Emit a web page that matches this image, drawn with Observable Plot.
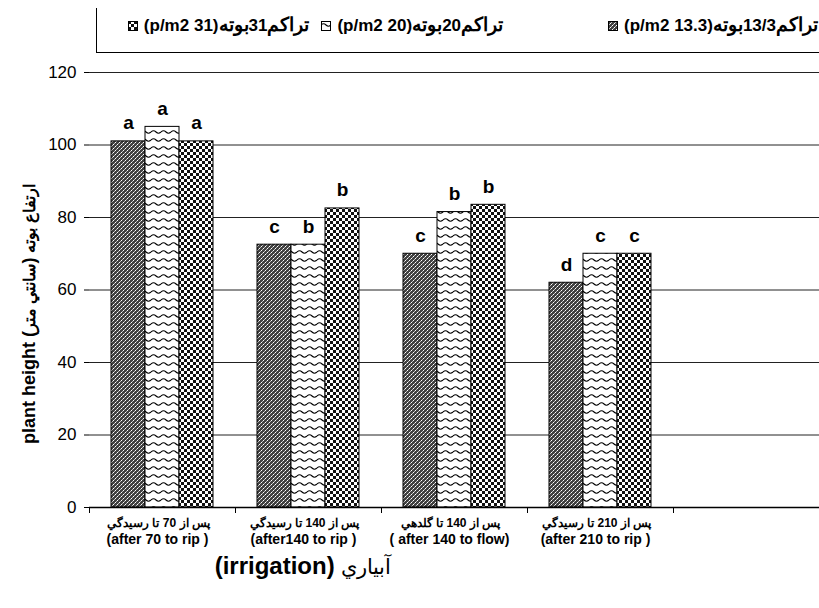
<!DOCTYPE html>
<html><head><meta charset="utf-8">
<script src="https://cdn.jsdelivr.net/npm/d3@7"></script>
<script src="https://cdn.jsdelivr.net/npm/@observablehq/plot@0.6"></script>
<style>
html,body{margin:0;padding:0;background:#fff;}
body{width:819px;height:608px;position:relative;overflow:hidden;font-family:"Liberation Sans",Arial,sans-serif;color:#000;}
#legend{position:absolute;left:96px;top:8px;width:723px;height:45px;border-left:1px solid #000;border-bottom:1px solid #000;box-sizing:border-box;display:flex;direction:rtl;align-items:flex-start;padding-right:1px;padding-top:6px;}
#legend .item{display:flex;direction:rtl;align-items:center;}
#legend .txt{font-weight:bold;font-size:17px;direction:rtl;line-height:22px;white-space:nowrap;}
#legend .ar{font-size:19px;}
#legend svg{margin-right:6px;display:block;}
#chart{position:absolute;left:0;top:56px;}
#ylabel{position:absolute;left:29px;top:314px;transform:translate(-50%,-50%) rotate(-90deg);white-space:nowrap;font-weight:bold;font-size:18px;}
#ylabel .ar{font-size:16px;}
#xtitle{position:absolute;left:0;width:606px;top:552px;text-align:center;font-weight:bold;font-size:24px;}
</style>
</head><body>
<div id="legend"></div>
<div id="chart"></div>
<div id="ylabel">plant height (<span class="ar">سانتي متر</span>&#x200E;) <span class="ar">ارتفاع بوته</span></div>
<div id="xtitle">(irrigation) <span style="font-weight:normal;font-size:21px">آبياري</span></div>
<script>
// categories (x groups)
const categoriesFa = ["پس از 70 تا رسيدگي", "پس از 140 تا رسيدگي", "پس از 140 تا گلدهي", "پس از 210 تا رسيدگي"];
const categoriesEn = ["(after 70 to rip )", "(after140 to rip )", "( after 140 to flow)", "(after 210 to rip )"];
// series (plant density)
const series = ["13.3", "20", "31"];
const seriesLabelsFa = [["تراكم", "13/3", "بوته"], ["تراكم", "20", "بوته"], ["تراكم", "31", "بوته"]];
const seriesLabelsEn = ["(13.3 p/m2)", "(20 p/m2)", "(31 p/m2)"];
// values (plant height, cm)
const values133 = [101, 72.5, 70, 62];
const values20 = [105, 72.5, 81.5, 70];
const values31 = [101, 82.5, 83.5, 70];
// significance letters
const letters133 = ["a", "c", "c", "d"];
const letters20 = ["a", "b", "b", "c"];
const letters31 = ["a", "b", "b", "c"];
const yTicks = [0, 20, 40, 60, 80, 100, 120];

const valueSets = [values133, values20, values31];
const letterSets = [letters133, letters20, letters31];
const rows = [];
categoriesEn.forEach((c, i) => {
  series.forEach((s, j) => rows.push({cat: c, series: s, value: valueSets[j][i], letter: letterSets[j][i]}));
});
const fxDomain = [...categoriesEn, " "];
const gridRows = fxDomain.flatMap(c => yTicks.map(t => ({cat: c, y: t})));
const patIds = ["pat0", "pat1", "pat2"];

const fmtFa = d => { const i = categoriesEn.indexOf(d); return i < 0 ? "" : categoriesFa[i]; };
const fmtEn = d => categoriesEn.includes(d) ? d : "";

const chart = Plot.plot({
  width: 819, height: 495,
  marginLeft: 88, marginRight: 0, marginTop: 16, marginBottom: 44,
  style: {fontFamily: '"Liberation Sans", Arial, sans-serif', background: "transparent", color: "#000"},
  fx: {domain: fxDomain, padding: 0, label: null},
  x: {domain: series, paddingInner: 0, paddingOuter: 0.59, axis: null},
  y: {domain: [0, 120], label: null},
  color: {domain: series, range: patIds.map(id => `url(#${id})`)},
  marks: [
    Plot.ruleY(gridRows.filter(d => d.y > 0), {fx: "cat", y: "y", stroke: "#222", strokeWidth: 1}),
    Plot.barY(rows, {fx: "cat", x: "series", y: "value", fill: "series", stroke: "#000", strokeWidth: 1}),
    Plot.text(rows, {fx: "cat", x: "series", y: "value", text: "letter", dy: -12, lineAnchor: "bottom", fontSize: 19, fontWeight: "bold"}),
    Plot.ruleY(gridRows.filter(d => d.y === 0), {fx: "cat", y: "y", stroke: "#000", strokeWidth: 1.5}),
    Plot.frame({anchor: "left", insetTop: 435, insetBottom: -5, stroke: "#000"}),
    Plot.axisY({ticks: yTicks, tickSize: 5, tickPadding: 8, fontSize: 17, line: true, label: null}),
    Plot.axisFx({anchor: "bottom", tickSize: 0, tickPadding: 11, tickFormat: fmtFa, fontSize: 12, fontWeight: "bold", dx: -4, label: null}),
    Plot.axisFx({anchor: "bottom", tickSize: 0, tickPadding: 27, tickFormat: fmtEn, fontSize: 14, fontWeight: "bold", letterSpacing: "0.3px", dx: -5, label: null})
  ]
});
document.getElementById("chart").appendChild(chart);
const svg = chart.tagName.toLowerCase() === "svg" ? chart : chart.querySelector("svg");
svg.insertAdjacentHTML("afterbegin", `<defs>
<pattern id="pat0" patternUnits="userSpaceOnUse" width="4" height="4"><rect width="4" height="4" fill="#404040"/><rect x="0" y="0" width="1" height="1" fill="#fff"/><rect x="2" y="2" width="1" height="1" fill="#fff"/><rect x="1" y="3" width="1" height="1" fill="#bbb"/><rect x="3" y="1" width="1" height="1" fill="#bbb"/></pattern>
<pattern id="pat1" patternUnits="userSpaceOnUse" width="10" height="8"><rect width="10" height="8" fill="#fff"/><path d="M0,4 Q2.5,1.5 5,4 T10,4" fill="none" stroke="#000" stroke-width="1.1"/></pattern>
<pattern id="pat2" patternUnits="userSpaceOnUse" width="6" height="6"><rect width="6" height="6" fill="#fff"/><rect width="3" height="3" fill="#111"/><rect x="3" y="3" width="3" height="3" fill="#111"/></pattern>
</defs>`);

const legend = document.getElementById("legend");
const itemGaps = [0, 105, 12];
series.forEach((s, j) => {
  const item = document.createElement("div");
  item.className = "item";
  item.style.marginRight = itemGaps[j] + "px";
  const t = document.createElement("span");
  t.className = "txt";
  const [a, n, b] = seriesLabelsFa[j];
  t.innerHTML = `<span class="ar">${a}</span>${n}<span class="ar">${b}</span>${seriesLabelsEn[j]}`;
  item.appendChild(t);
  item.insertAdjacentHTML("beforeend", `<svg width="10" height="10"><rect x="0.5" y="0.5" width="9" height="9" fill="url(#${patIds[j]})" stroke="#000"/></svg>`);
  legend.appendChild(item);
});
</script>
</body></html>
